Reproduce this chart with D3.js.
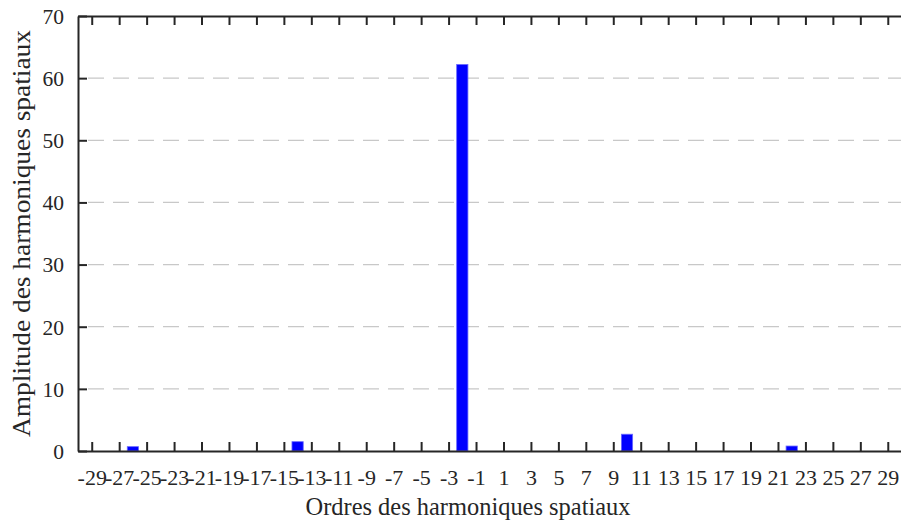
<!DOCTYPE html>
<html>
<head>
<meta charset="utf-8">
<script src="https://cdn.jsdelivr.net/npm/d3@7"></script>
<style>
html,body{margin:0;padding:0;background:#fff;overflow:hidden;}
svg{display:block;}
</style>
</head>
<body>
<svg id="chart" width="901" height="525"></svg>
<script>
// Data
const orders = [-26, -14, -2, 10, 22];
const amplitudes = [0.7, 1.5, 62.2, 2.7, 0.8];
const xTickValues = [-29,-27,-25,-23,-21,-19,-17,-15,-13,-11,-9,-7,-5,-3,-1,1,3,5,7,9,11,13,15,17,19,21,23,25,27,29];
const yTickValues = [0,10,20,30,40,50,60,70];
const gridValues = [10,20,30,40,50,60];
const xTitle = "Ordres des harmoniques spatiaux";
const yTitle = "Amplitude des harmoniques spatiaux";

(function(){
const svg = d3.select("#chart");
const mL = 78, mR = 901.5, mT = 16, mB = 451;
const x = d3.scaleLinear().domain([-30, 30]).range([mL, mR]);
const y = d3.scaleLinear().domain([0, 70]).range([mB, mT]);
const font = "'Liberation Serif', 'Times New Roman', serif";
const axisColor = "#262626";
const fmt = d => String(d);

// grid
svg.append("g").selectAll("line").data(gridValues).join("line")
  .attr("x1", mL).attr("x2", 901)
  .attr("y1", d => y(d)).attr("y2", d => y(d))
  .attr("stroke", "#c8c8c8").attr("stroke-width", 1.3)
  .attr("stroke-dasharray", "16,9").attr("stroke-dashoffset", -10);

// bars
const bw = 0.82;
svg.append("g").selectAll("rect").data(orders).join("rect")
  .attr("x", d => x(d - bw/2))
  .attr("width", d => x(d + bw/2) - x(d - bw/2))
  .attr("y", (d,i) => y(amplitudes[i]))
  .attr("height", (d,i) => y(0) - y(amplitudes[i]))
  .attr("fill", "#0000ff").attr("stroke", "#6a6aff").attr("stroke-width", 0.8);

// bottom axis
const xAxisB = d3.axisBottom(x).tickValues(xTickValues).tickFormat(fmt).tickSizeInner(-9).tickSizeOuter(0).tickPadding(18);
const gB = svg.append("g").attr("transform", `translate(0,${mB})`).call(xAxisB);
// top axis
const xAxisT = d3.axisTop(x).tickValues(xTickValues).tickSizeInner(-9).tickSizeOuter(0).tickFormat("");
const gT = svg.append("g").attr("transform", `translate(0,${mT})`).call(xAxisT);
// left axis
const yAxisL = d3.axisLeft(y).tickValues(yTickValues).tickFormat(fmt).tickSizeInner(-9).tickSizeOuter(0).tickPadding(14);
const gL = svg.append("g").attr("transform", `translate(${mL},0)`).call(yAxisL);

[gB, gT, gL].forEach(g => {
  g.select(".domain").attr("stroke", axisColor).attr("stroke-width", 2);
  g.selectAll(".tick line").attr("stroke", axisColor).attr("stroke-width", 2);
  g.selectAll(".tick text").attr("fill", "#262626").attr("font-family", font).attr("font-size", 22);
});
gB.selectAll(".tick text").attr("dy", "0.71em");
gL.selectAll(".tick text").attr("dy", "0.34em").attr("font-size", 21.5);

// titles
svg.append("text").attr("x", 468).attr("y", 515).attr("text-anchor", "middle")
  .attr("font-family", font).attr("font-size", 24.5).attr("fill", "#262626")
  .attr("textLength", 325).attr("lengthAdjust", "spacingAndGlyphs").text(xTitle);
svg.append("text").attr("transform", `translate(30,${(mT+mB)/2}) rotate(-90)`)
  .attr("text-anchor", "middle")
  .attr("font-family", font).attr("font-size", 25).attr("fill", "#262626")
  .attr("textLength", 407).attr("lengthAdjust", "spacingAndGlyphs").text(yTitle);
})();
</script>
</body>
</html>
